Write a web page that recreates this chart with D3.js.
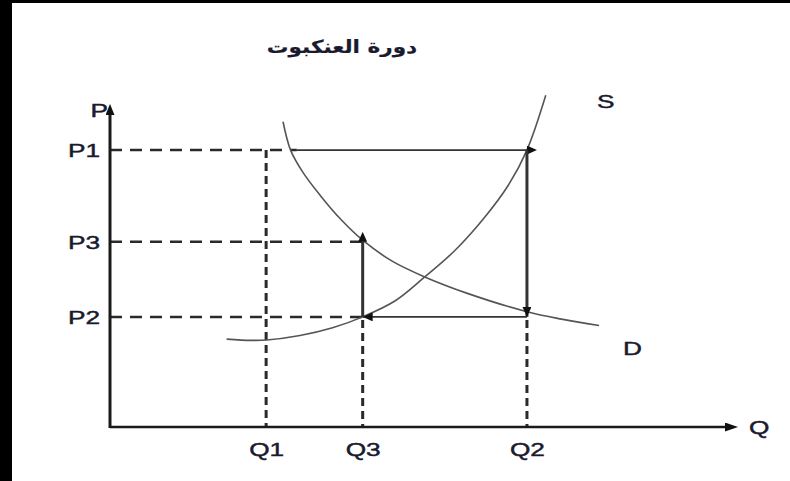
<!DOCTYPE html>
<html>
<head>
<meta charset="utf-8">
<script src="https://cdn.jsdelivr.net/npm/d3@7"></script>
<style>
  html, body { margin: 0; padding: 0; background: #000; }
  svg { display: block; }
  text { font-family: Arial, "Liberation Sans", "DejaVu Sans", sans-serif; fill: #1a1a2e; }
</style>
</head>
<body>
<svg id="chart" width="790" height="481"></svg>
<script>
// ---- data (abstract units: quantity 0..100, price 0..100) ----
const titleText = "دورة العنكبوت";
const priceLabels = ["P1", "P3", "P2"];
const priceValues = [86.0, 57.5, 34.2];
const quantityLabels = ["Q1", "Q3", "Q2"];
const quantityValues = [24.9, 40.3, 66.5];
const supplyCurve = [[18.6, 27.3], [22.5, 26.9], [25, 27.0], [30.3, 28.4], [35.5, 30.8], [40.3, 34.2], [45.5, 39.2], [50.2, 46.6], [55, 54.8], [59.5, 64.5], [63.5, 75], [66.5, 86.0], [69.5, 103]];
const demandCurve = [[27.6, 94.8], [28.8, 86.0], [30.8, 79], [33.5, 72.0], [36.8, 64.5], [40.3, 58.0], [45, 51.5], [50.2, 46.6], [57, 41.5], [66.5, 35.8], [72, 33.5], [78, 31.5]];
const axisLabels = { x: "Q", y: "P" };
const curveLabels = { supply: "S", demand: "D" };
const cobwebStartQ = 29.8;

// ---- layout ----
const svg = d3.select("#chart");
const W = 790, H = 481;
svg.append("rect").attr("x", 12).attr("y", 3).attr("width", W - 12).attr("height", H - 3).attr("fill", "#fff");

const x = d3.scaleLinear().domain([0, 100]).range([110, 737]);
const y = d3.scaleLinear().domain([0, 100]).range([427, 105]);

const defs = svg.append("defs");
function marker(id, len, wid, refX) {
  defs.append("marker").attr("id", id)
    .attr("viewBox", `0 0 ${len} ${wid}`)
    .attr("refX", refX).attr("refY", wid / 2)
    .attr("markerWidth", len).attr("markerHeight", wid)
    .attr("markerUnits", "userSpaceOnUse")
    .attr("orient", "auto")
    .append("path").attr("d", `M0,0L${len},${wid / 2}L0,${wid}Z`).attr("fill", "#111");
}
marker("axArrow", 13, 9, 0);
marker("axArrowY", 11, 9, 0);
marker("over", 10, 9, 0);
marker("tip", 10, 9, 10);

const STRX = 1.38; // horizontal stretch of reference text
const FS = 19;
function label(sel, tx, ty, str, anchor, size, weight, sx) {
  return sel.append("text")
    .attr("transform", `translate(${tx},${ty}) scale(${sx || STRX},1)`)
    .attr("text-anchor", anchor || "middle")
    .attr("dominant-baseline", "central")
    .style("font-size", (size || FS) + "px")
    .style("font-weight", weight || "normal")
    .attr("stroke", "#1a1a2e").attr("stroke-width", 0.45)
    .text(str);
}

// title
label(svg, 342, 47, titleText, "middle", 18, "bold", 1.2).style("font-family", "'DejaVu Sans', sans-serif")
  .attr("direction", "rtl").attr("stroke-width", 0.2);

// axes (library axes for tick labels)
const xAxis = d3.axisBottom(x).tickValues(quantityValues)
  .tickFormat((d, i) => quantityLabels[i]).tickSize(0).tickPadding(10);
const yAxis = d3.axisLeft(y).tickValues(priceValues)
  .tickFormat((d, i) => priceLabels[i]).tickSize(0).tickPadding(10);

const gx = svg.append("g").attr("transform", `translate(0,${y(0)})`).call(xAxis);
const gy = svg.append("g").attr("transform", `translate(${x(0)},0)`).call(yAxis);
[gx, gy].forEach(g => {
  g.select(".domain").remove();
  g.selectAll("text").attr("fill", "#1a1a2e").style("font-size", FS + "px")
    .attr("stroke", "#1a1a2e").attr("stroke-width", 0.45)
    .style("font-family", "Arial, 'Liberation Sans', sans-serif");
});
gx.selectAll(".tick text").attr("dy", null).attr("y", null)
  .attr("dominant-baseline", "central")
  .attr("transform", `translate(0,22) scale(${STRX},1)`);
gy.selectAll(".tick text").attr("x", null).attr("dy", null)
  .attr("dominant-baseline", "central")
  .attr("transform", `translate(-10,0) scale(${STRX},1)`);

// dashed guides
const dashH = "12,8", dashV = "8,5";
const guides = svg.append("g").attr("stroke", "#2a2a2a").attr("fill", "none");
// horizontal: P1 to cobweb start, P3 and P2 to Q3
guides.append("line").attr("x1", x(0)).attr("x2", x(cobwebStartQ)).attr("y1", y(priceValues[0])).attr("y2", y(priceValues[0]))
  .attr("stroke-width", 2.5).attr("stroke-dasharray", dashH);
guides.append("line").attr("x1", x(0)).attr("x2", x(quantityValues[1])).attr("y1", y(priceValues[1])).attr("y2", y(priceValues[1]))
  .attr("stroke-width", 2.5).attr("stroke-dasharray", dashH);
guides.append("line").attr("x1", x(0)).attr("x2", x(quantityValues[1])).attr("y1", y(priceValues[2])).attr("y2", y(priceValues[2]))
  .attr("stroke-width", 2.5).attr("stroke-dasharray", dashH);
// vertical: Q1 from P1, Q3 from P2, Q2 from P2
guides.append("line").attr("x1", x(quantityValues[0])).attr("x2", x(quantityValues[0])).attr("y1", y(priceValues[0])).attr("y2", y(0))
  .attr("stroke-width", 3).attr("stroke-dasharray", dashV);
guides.append("line").attr("x1", x(quantityValues[1])).attr("x2", x(quantityValues[1])).attr("y1", y(priceValues[2]) + 3).attr("y2", y(0))
  .attr("stroke-width", 3).attr("stroke-dasharray", dashV);
guides.append("line").attr("x1", x(quantityValues[2])).attr("x2", x(quantityValues[2])).attr("y1", y(priceValues[2]) + 3).attr("y2", y(0))
  .attr("stroke-width", 3).attr("stroke-dasharray", dashV);

// curves
const line = d3.line().x(d => x(d[0])).y(d => y(d[1])).curve(d3.curveCatmullRom.alpha(0.5));
svg.append("path").datum(supplyCurve).attr("d", line).attr("fill", "none").attr("stroke", "#555").attr("stroke-width", 1.6);
svg.append("path").datum(demandCurve).attr("d", line).attr("fill", "none").attr("stroke", "#555").attr("stroke-width", 1.6);

// cobweb solid path
const cob = svg.append("g").attr("stroke", "#333").attr("fill", "none");
cob.append("line").attr("x1", x(cobwebStartQ)).attr("x2", x(quantityValues[2])).attr("y1", y(priceValues[0])).attr("y2", y(priceValues[0]))
  .attr("stroke-width", 1.8).attr("marker-end", "url(#over)");
cob.append("line").attr("x1", x(quantityValues[2])).attr("x2", x(quantityValues[2])).attr("y1", y(priceValues[0])).attr("y2", y(priceValues[2]))
  .attr("stroke-width", 3).attr("marker-end", "url(#tip)");
cob.append("line").attr("x1", x(quantityValues[2])).attr("x2", x(quantityValues[1])).attr("y1", y(priceValues[2])).attr("y2", y(priceValues[2]))
  .attr("stroke-width", 1.8).attr("marker-end", "url(#tip)");
cob.append("line").attr("x1", x(quantityValues[1])).attr("x2", x(quantityValues[1])).attr("y1", y(priceValues[2])).attr("y2", y(priceValues[1]))
  .attr("stroke-width", 3).attr("marker-end", "url(#over)");

// axis lines with arrows
svg.append("line").attr("x1", x(0)).attr("y1", y(0)).attr("x2", x(100) - 12).attr("y2", y(0))
  .attr("stroke", "#1a1a1a").attr("stroke-width", 2.5).attr("marker-end", "url(#axArrow)");
svg.append("line").attr("x1", x(0)).attr("y1", y(0) + 1).attr("x2", x(0)).attr("y2", y(100) + 10)
  .attr("stroke", "#1a1a1a").attr("stroke-width", 3).attr("marker-end", "url(#axArrowY)");

// axis & curve labels
label(svg, x(100) + 12, y(0), axisLabels.x, "start");
label(svg, x(0) - 2, y(100) + 5, axisLabels.y, "end");
label(svg, 597, 101, curveLabels.supply, "start");
label(svg, 623, 348, curveLabels.demand, "start");
</script>
</body>
</html>
